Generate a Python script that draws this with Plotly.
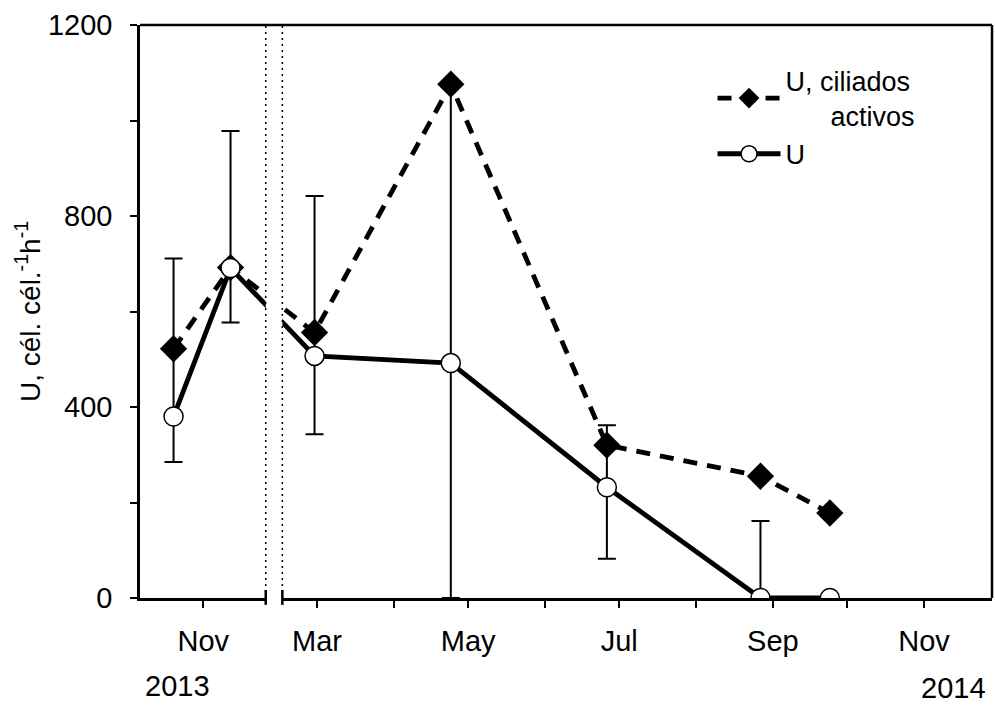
import plotly.graph_objects as go

# ---- data ----
sample_dates = ["2013-10-20", "2013-11-12", "2014-02-28", "2014-04-24",
                "2014-06-26", "2014-08-27", "2014-09-24"]
u_values = [380, 691, 507, 492, 232, 0, 0]
u_active_values = [522, 692, 556, 1076, 320, 255, 178]
err_upper = [711, 978, 842, 1076, 362, 161, None]
err_lower = [285, 577, 343, 0, 82, 0, None]

month_ticks = ["2013-11-01", "2014-03-01", "2014-05-01", "2014-07-01", "2014-09-01", "2014-11-01"]
month_labels = ["Nov", "Mar", "May", "Jul", "Sep", "Nov"]
minor_month_ticks = ["2014-04-01", "2014-06-01", "2014-08-01", "2014-10-01"]
y_ticks = [0, 400, 800, 1200]
y_labels = ["0", "400", "800", "1200"]
y_minor_ticks = [200, 600, 1000]

break_start, break_end, gap_end = "2013-11-26 05:00", "2014-02-08 07:00", "2014-02-15 00:00"
x_range = ["2013-10-06 11:00", "2014-11-28 11:00"]

FONT = "Liberation Sans, Arial, sans-serif"

plus = [None if h is None else h - v for h, v in zip(err_upper, u_values)]
minus = [None if l is None else v - l for l, v in zip(err_lower, u_values)]

fig = go.Figure()
fig.add_trace(go.Scatter(
    x=sample_dates, y=u_values, mode="markers", showlegend=False, hoverinfo="skip",
    marker=dict(size=1, color="rgba(0,0,0,0)"),
    error_y=dict(type="data", symmetric=False, array=plus, arrayminus=minus,
                 color="black", thickness=2, width=9),
))
fig.add_trace(go.Scatter(
    x=sample_dates, y=u_active_values, mode="lines+markers",
    name="U, ciliados<br>\u00a0\u00a0\u00a0\u00a0\u00a0\u00a0activos",
    line=dict(color="black", width=4.8, dash="14px,10px"),
    marker=dict(symbol="diamond", size=21, color="black", line=dict(color="black", width=0)),
))
fig.add_trace(go.Scatter(
    x=sample_dates, y=u_values, mode="lines+markers", name="U",
    line=dict(color="black", width=4.8),
    marker=dict(symbol="circle", size=19, color="white", line=dict(color="black", width=1.5)),
))

shapes = [
    dict(type="rect", xref="x", yref="paper", x0=break_end, x1=gap_end, y0=-0.03, y1=1,
         fillcolor="white", line=dict(width=0), layer="above"),
    dict(type="line", xref="x", yref="paper", x0=break_end, x1=break_end, y0=0, y1=1,
         line=dict(color="black", width=1.5, dash="2px,4px"), layer="above"),
    dict(type="line", xref="x", yref="paper", x0=gap_end, x1=gap_end, y0=0, y1=1,
         line=dict(color="black", width=1.5, dash="2px,4px"), layer="above"),
    dict(type="line", xref="x", yref="paper", x0=break_end, x1=break_end, y0=-0.012, y1=0.014,
         line=dict(color="black", width=2.5), layer="above"),
    dict(type="line", xref="x", yref="paper", x0=gap_end, x1=gap_end, y0=-0.012, y1=0.014,
         line=dict(color="black", width=2.5), layer="above"),
    dict(type="line", xref="paper", yref="paper", x0=0, x1=1, y0=1, y1=1,
         line=dict(color="black", width=2.5), layer="above"),
    dict(type="line", xref="paper", yref="paper", x0=1, x1=1, y0=0, y1=1,
         line=dict(color="black", width=2.5), layer="above"),
]

fig.update_layout(
    width=995, height=705,
    margin=dict(l=140, r=3, t=25, b=107),
    paper_bgcolor="white", plot_bgcolor="white",
    font=dict(family=FONT, size=29, color="black"),
    shapes=shapes,
    legend=dict(x=0.672, y=0.945, xanchor="left", yanchor="top",
                font=dict(family=FONT, size=27, color="black"),
                bgcolor="rgba(0,0,0,0)", itemwidth=63, tracegroupgap=0),
    annotations=[
        dict(text="2013", x=0.0446, y=-0.1536, xref="paper", yref="paper",
             xanchor="center", yanchor="middle", showarrow=False,
             font=dict(family=FONT, size=29, color="black")),
        dict(text="2014", x=0.9953, y=-0.157, xref="paper", yref="paper",
             xanchor="right", yanchor="middle", showarrow=False,
             font=dict(family=FONT, size=29, color="black")),
    ],
)
fig.update_xaxes(
    type="date", range=x_range,
    rangebreaks=[dict(bounds=[break_start, break_end])],
    tickmode="array", tickvals=month_ticks, ticktext=month_labels,
    minor=dict(tickmode="array", tickvals=minor_month_ticks, ticks="outside",
               ticklen=7, tickwidth=2, tickcolor="black", showgrid=False),
    showgrid=False, zeroline=False,
    showline=True, linecolor="black", linewidth=2.5,
    ticks="outside", ticklen=7, tickwidth=2, tickcolor="black",
    ticklabelstandoff=8,
    tickfont=dict(family=FONT, size=29, color="black"),
)
fig.update_yaxes(
    range=[0, 1200], tickmode="array", tickvals=y_ticks, ticktext=y_labels,
    minor=dict(tickmode="array", tickvals=y_minor_ticks, ticks="outside",
               ticklen=7, tickwidth=2, tickcolor="black", showgrid=False),
    showgrid=False, zeroline=False,
    showline=True, linecolor="black", linewidth=2.5,
    ticks="outside", ticklen=7, tickwidth=2, tickcolor="black",
    ticklabelstandoff=12,
    tickfont=dict(family=FONT, size=29, color="black"),
    title=dict(text="U, cél. cél.<sup>-1</sup>h<sup>-1</sup>", standoff=0,
               font=dict(family=FONT, size=28, color="black")),
)

fig.write_html("out.html")
